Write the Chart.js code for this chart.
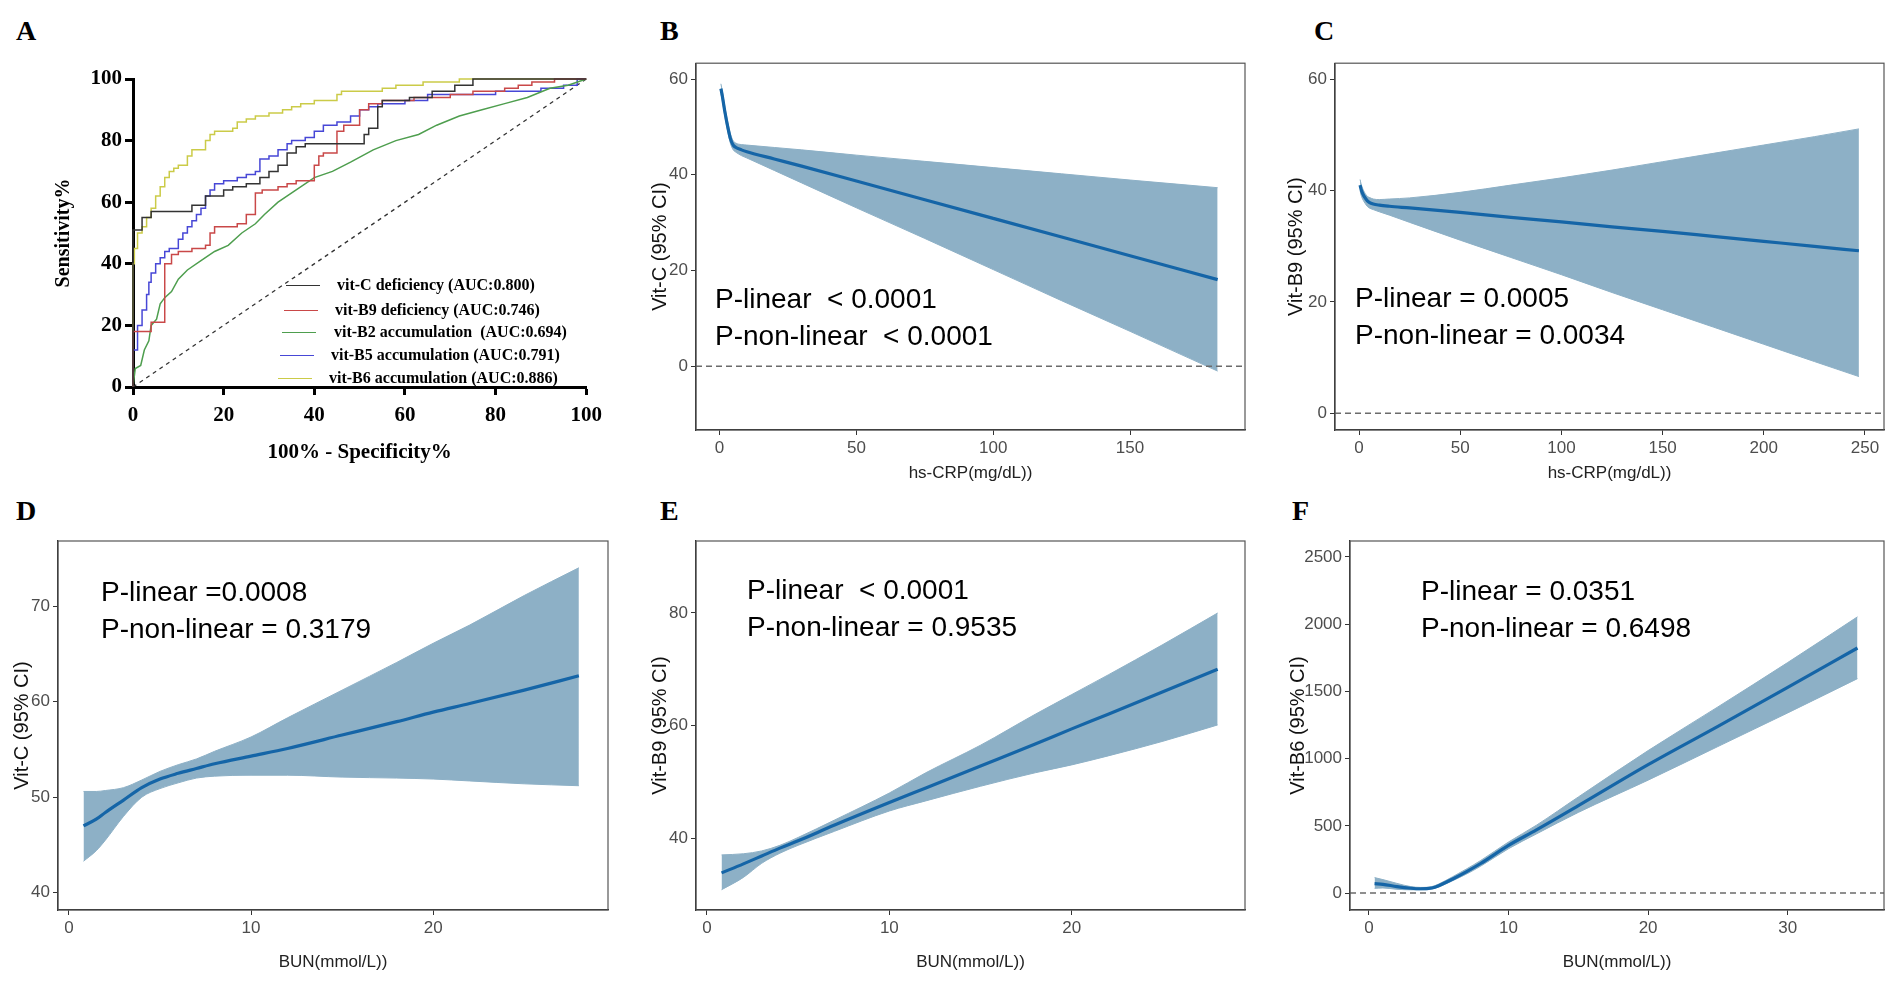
<!DOCTYPE html>
<html>
<head>
<meta charset="utf-8">
<script src="https://cdn.jsdelivr.net/npm/chart.js@4.4.1/dist/chart.umd.min.js"></script>
<style>
  body { margin: 0; background: #fff; width: 1890px; height: 981px; position: relative; overflow: hidden; }
  canvas { position: absolute; }
  .tag { position: absolute; font: bold 28px "Liberation Serif", "Times New Roman", serif; line-height: 28px; }
  .pval { position: absolute; font: 28px "Liberation Sans", Arial, sans-serif; white-space: pre; line-height: 37px; color: #000; }
  .leg { position: absolute; font: bold 16px "Liberation Serif", "Times New Roman", serif; white-space: pre; line-height: 18px; }
  .legline { position: absolute; width: 34px; height: 0; border-top: 1.6px solid; }
</style>
</head>
<body>
<div class="tag" style="left:16px;top:17px">A</div>
<div class="tag" style="left:660px;top:17px">B</div>
<div class="tag" style="left:1314px;top:17px">C</div>
<div class="tag" style="left:16px;top:497px">D</div>
<div class="tag" style="left:660px;top:497px">E</div>
<div class="tag" style="left:1292px;top:497px">F</div>

<canvas id="chartA" width="570" height="420" style="left:40px;top:60px"></canvas>
<canvas id="chartB" width="625" height="440" style="left:630px;top:50px"></canvas>
<canvas id="chartC" width="630" height="440" style="left:1260px;top:50px"></canvas>
<canvas id="chartD" width="618" height="461" style="left:0px;top:520px"></canvas>
<canvas id="chartE" width="625" height="461" style="left:630px;top:520px"></canvas>
<canvas id="chartF" width="630" height="461" style="left:1260px;top:520px"></canvas>

<div class="pval" style="left:715px;top:280px">P-linear  &lt; 0.0001
P-non-linear  &lt; 0.0001</div>
<div class="pval" style="left:1355px;top:279px">P-linear = 0.0005
P-non-linear = 0.0034</div>
<div class="pval" style="left:101px;top:573px">P-linear =0.0008
P-non-linear = 0.3179</div>
<div class="pval" style="left:747px;top:571px">P-linear  &lt; 0.0001
P-non-linear = 0.9535</div>
<div class="pval" style="left:1421px;top:572px">P-linear = 0.0351
P-non-linear = 0.6498</div>

<div id="legendA"></div>

<script>
// ---- panel A: ROC curves (100% - specificity, sensitivity) ----
const rocC_x = [0, 0, 2, 4, 13, 16, 20, 22, 25, 28, 30, 32, 34, 36, 38, 40, 51, 52, 54, 55, 61, 66, 71, 75, 80, 100];
const rocC_y = [0, 44, 51, 55, 57, 59, 62, 64, 65, 66, 68, 70, 72, 76, 78, 79, 79, 82, 84, 91, 93, 94, 96, 98, 100, 100];

const rocB9_x = [0, 0, 4, 7, 8.5, 10, 13, 16, 17, 18, 23, 25, 27, 28.5, 32, 34, 36, 40, 41, 42, 45, 46.5, 50, 52, 55, 62, 70, 75, 82, 85, 88, 93, 100];
const rocB9_y = [0, 12, 18, 21, 40, 43, 44, 45, 46, 50, 52, 53, 56, 63, 64, 65, 66, 67, 72, 75, 76, 83, 85, 90, 92, 93, 94, 95, 96, 97, 98, 99, 100];

const rocB2_x = [0, 0.5, 1.7, 2.5, 3.5, 4, 5.2, 6, 7, 8.5, 10, 12, 15, 18, 21, 24, 27, 29, 32, 36, 40, 44, 48, 53, 58, 63, 67, 72, 77, 82, 87, 92, 96, 100];
const rocB2_y = [0, 6, 7, 12, 15, 20, 22, 27, 29, 31, 35, 38, 41, 44, 46, 50, 53, 56, 60, 64, 68, 70, 73, 77, 80, 82, 85, 88, 90, 92, 94, 97, 98, 100];

const rocB5_x = [0, 0, 1, 2, 3, 3.5, 4, 5, 6, 7, 8, 10, 11, 12, 13, 14, 15, 16, 17, 18, 20, 23, 25, 27, 28, 30, 32, 34, 35, 38, 40, 42, 45, 48, 50, 52, 54, 60, 65, 80, 90, 95, 98, 100];
const rocB5_y = [0, 6, 12, 20, 25, 30, 34, 37, 40, 42, 44, 45, 48, 50, 52, 54, 56, 58, 62, 64, 66, 67, 68, 69, 70, 74, 75, 77, 79, 80, 81, 83, 85, 86, 88, 90, 91, 92, 93, 95, 96, 97, 98, 100];

const rocB6_x = [0, 0, 0.3, 1, 2, 3, 4, 5, 6, 7, 8, 9, 10, 12, 13, 16, 17, 18, 22, 23, 25, 27, 30, 33, 35, 37, 40, 45, 46, 55, 58, 64, 72, 89, 100];
const rocB6_y = [0, 20, 40, 45, 50, 52, 55, 58, 62, 65, 68, 70, 71, 72, 75, 77, 80, 82, 83, 84, 86, 87, 88, 89, 90, 91, 92, 93, 95, 96, 97, 98, 99, 100, 100];

const rocLabels = ['vit-C deficiency (AUC:0.800)', 'vit-B9 deficiency (AUC:0.746)', 'vit-B2 accumulation  (AUC:0.694)',
                   'vit-B5 accumulation (AUC:0.791)', 'vit-B6 accumulation (AUC:0.886)'];
const rocColors = ['#333333', '#c94848', '#4e9e4e', '#4747d6', '#cbcb48'];
const chanceX = [0, 100];
const rocTicks = [0, 20, 40, 60, 80, 100];

// ---- panel B: Vit-C vs hs-CRP ----
const crpB = [0.5, 1, 2, 3, 4, 5, 6, 8, 10, 20, 30, 50, 75, 100, 125, 150, 182];
const vitC_fitB = [58, 56.5, 53, 50, 47.5, 46.2, 45.7, 45.2, 44.8, 43.3, 41.8, 38.7, 34.8, 30.9, 27, 23.1, 18.1];
const vitC_loB = [57, 55.5, 52, 49, 46.5, 45.2, 44.7, 44, 43.5, 40.9, 38.3, 33.1, 26.7, 20.2, 13.7, 7.3, -1];
const vitC_hiB = [59, 57.5, 54, 51, 48.5, 47.1, 46.6, 46.3, 46.2, 45.7, 45.2, 44.1, 42.8, 41.5, 40.2, 38.9, 37.3];
const crpTicksB = [0, 50, 100, 150];
const vitCTicksB = [0, 20, 40, 60];

// ---- panel C: Vit-B9 vs hs-CRP ----
const crpC = [0.5, 1, 2, 3, 4, 5, 7, 10, 15, 25, 50, 75, 100, 125, 150, 175, 200, 225, 247];
const vitB9_fitC = [41, 40.2, 39.3, 38.7, 38.2, 37.9, 37.6, 37.4, 37.2, 36.9, 36.1, 35.2, 34.4, 33.5, 32.7, 31.8, 30.9, 30, 29.2];
const vitB9_loC = [40, 39.2, 38.3, 37.7, 37.2, 36.9, 36.6, 36.2, 35.6, 34.3, 31.1, 28, 24.9, 21.7, 18.6, 15.5, 12.4, 9.3, 6.6];
const vitB9_hiC = [42, 41.2, 40.2, 39.5, 39, 38.8, 38.5, 38.4, 38.5, 38.7, 39.7, 41, 42.3, 43.7, 45.2, 46.7, 48.2, 49.7, 51.1];
const crpTicksC = [0, 50, 100, 150, 200, 250];
const vitB9TicksC = [0, 20, 40, 60];

// ---- panel D: Vit-C vs BUN ----
const bunD = [0.8, 1.5, 2, 3, 4, 5, 6, 7, 8, 10, 12, 15, 18, 20, 22, 25, 28];
const vitC_fitD = [47, 47.7, 48.4, 49.7, 51, 51.9, 52.5, 53, 53.5, 54.3, 55.1, 56.5, 57.9, 58.9, 59.8, 61.2, 62.7];
const vitC_loD = [43.3, 44.4, 45.5, 48, 50, 50.9, 51.5, 52, 52.2, 52.3, 52.3, 52.1, 52, 51.9, 51.7, 51.4, 51.2];
const vitC_hiD = [50.6, 50.6, 50.7, 51, 51.8, 52.7, 53.4, 54, 54.8, 56.3, 58.3, 61.2, 64.1, 66.1, 68, 71.1, 74];
const bunTicksD = [0, 10, 20];
const vitCTicksD = [40, 50, 60, 70];

// ---- panel E: Vit-B9 vs BUN ----
const bunE = [0.8, 2, 3, 4, 5, 7, 10, 12, 15, 18, 20, 22, 25, 28];
const vitB9_fitE = [33.8, 35.4, 36.8, 38.2, 39.5, 42.3, 46.3, 48.9, 52.8, 56.7, 59.4, 62, 66, 70];
const vitB9_loE = [30.8, 33, 35.5, 37.3, 38.7, 41.2, 44.8, 46.6, 49.2, 51.6, 53, 54.6, 57.2, 60.1];
const vitB9_hiE = [37, 37.2, 37.7, 38.7, 40.1, 43.2, 48, 51.6, 56.5, 62, 65.5, 69, 74.4, 80];
const bunTicksE = [0, 10, 20];
const vitB9TicksE = [40, 60, 80];

// ---- panel F: Vit-B6 vs BUN ----
const bunF = [0.4, 1, 2, 3, 3.7, 4.5, 5, 6, 7, 8, 10, 12, 15, 20, 25, 30, 35];
const vitB6_fitF = [70, 65, 48, 36, 32, 38, 55, 105, 160, 220, 355, 470, 650, 955, 1240, 1530, 1823];
const vitB6_loF = [35, 38, 28, 24, 24, 30, 45, 92, 142, 200, 330, 440, 600, 840, 1090, 1340, 1595];
const vitB6_hiF = [115, 100, 72, 48, 42, 48, 68, 122, 180, 242, 380, 505, 715, 1060, 1385, 1715, 2055];
const bunTicksF = [0, 10, 20, 30];
const vitB6TicksF = [0, 500, 1000, 1500, 2000, 2500];

const refValue = 0;

const bandColor = '#8db0c6';
const fitColor = '#1565a7';
const narrow = "'Liberation Sans Narrow', 'Liberation Sans', Arial, sans-serif";
const sans = "'Liberation Sans', Arial, sans-serif";
const serif = "'Liberation Serif', 'Times New Roman', serif";

function pts(xs, ys) {
  return xs.map(function(x, i) { return {x: x, y: ys[i]}; });
}
function fixedTicks(vals) {
  return function(scale) { scale.ticks = vals.map(function(v) { return {value: v}; }); };
}

const boxPlugin = {
  id: 'box',
  afterDraw: function(chart) {
    const a = chart.chartArea, ctx = chart.ctx;
    ctx.save();
    ctx.strokeStyle = '#555';
    ctx.lineWidth = 1.2;
    ctx.strokeRect(a.left, a.top, a.right - a.left, a.bottom - a.top);
    ctx.restore();
  }
};
function zeroPlugin(show) {
  return {
    id: 'zeroline',
    afterDatasetsDraw: function(chart) {
      if (!show) return;
      const a = chart.chartArea, ctx = chart.ctx;
      const y = chart.scales.y.getPixelForValue(refValue);
      ctx.save();
      ctx.strokeStyle = '#6b6b6b';
      ctx.lineWidth = 1.5;
      ctx.setLineDash([6, 4]);
      ctx.beginPath();
      ctx.moveTo(a.left, y);
      ctx.lineTo(a.right, y);
      ctx.stroke();
      ctx.restore();
    }
  };
}

function splinePanel(id, xs, fit, lo, hi, xr, yr, xt, yt, xTitle, yTitle, zero, p) {
  new Chart(document.getElementById(id), {
    type: 'line',
    data: {
      datasets: [
        { data: pts(xs, fit), borderColor: fitColor, borderWidth: 3.2, pointRadius: 0, fill: false, cubicInterpolationMode: 'monotone' },
        { data: pts(xs, lo), borderColor: bandColor, borderWidth: 1, pointRadius: 0, fill: false, cubicInterpolationMode: 'monotone' },
        { data: pts(xs, hi), borderColor: bandColor, borderWidth: 1, pointRadius: 0, fill: '-1', backgroundColor: bandColor, cubicInterpolationMode: 'monotone' }
      ]
    },
    options: {
      responsive: false,
      animation: false,
      devicePixelRatio: 1,
      layout: { padding: { top: p.top, right: p.right, left: 0, bottom: 0 } },
      plugins: { legend: { display: false }, tooltip: { enabled: false } },
      scales: {
        x: {
          type: 'linear', min: xr[0], max: xr[1],
          afterBuildTicks: fixedTicks(xt),
          afterFit: function(s) { s.height = p.xh; },
          grid: { drawOnChartArea: false, tickLength: 5, color: '#333' },
          border: { color: '#222', width: 1.3 },
          ticks: { font: { family: narrow, size: 17 }, color: '#4d4d4d', padding: 3, maxRotation: 0, autoSkip: false, callback: function(v) { return v; } },
          title: { display: true, text: xTitle, font: { family: sans, size: 17 }, color: '#222', padding: { top: 0, bottom: p.xtp } }
        },
        y: {
          type: 'linear', min: yr[0], max: yr[1],
          afterBuildTicks: fixedTicks(yt),
          afterFit: function(s) { s.width = p.yw; },
          grid: { drawOnChartArea: false, tickLength: 5, color: '#333' },
          border: { color: '#222', width: 1.3 },
          ticks: { font: { family: narrow, size: 17 }, color: '#4d4d4d', padding: 3, autoSkip: false, callback: function(v) { return v; } },
          title: { display: true, text: yTitle, font: { family: sans, size: 20 }, color: '#111', padding: { top: p.ytp, bottom: 0 } }
        }
      }
    },
    plugins: [boxPlugin, zeroPlugin(zero)]
  });
}

// panel A
function rocSet(xs, ys, i, stepped) {
  return { label: rocLabels[i], data: pts(xs, ys), borderColor: rocColors[i], borderWidth: 1.5,
           pointRadius: 0, fill: false, stepped: stepped, clip: 4 };
}
new Chart(document.getElementById('chartA'), {
  type: 'line',
  data: {
    datasets: [
      rocSet(rocC_x, rocC_y, 0, 'after'),
      rocSet(rocB9_x, rocB9_y, 1, 'after'),
      rocSet(rocB2_x, rocB2_y, 2, false),
      rocSet(rocB5_x, rocB5_y, 3, 'after'),
      rocSet(rocB6_x, rocB6_y, 4, 'after'),
      { label: 'chance', data: pts(chanceX, chanceX), borderColor: '#333', borderWidth: 1.3, borderDash: [4, 4], pointRadius: 0, fill: false }
    ]
  },
  options: {
    responsive: false,
    animation: false,
    devicePixelRatio: 1,
    layout: { padding: { top: 19, right: 13, left: 0, bottom: 0 } },
    plugins: { legend: { display: false }, tooltip: { enabled: false } },
    scales: {
      x: {
        type: 'linear', min: 0, max: 100,
        afterBuildTicks: fixedTicks(rocTicks),
        afterFit: function(s) { s.height = 93; },
        grid: { drawOnChartArea: false, tickLength: 8, tickWidth: 3, tickColor: '#000' },
        border: { color: '#000', width: 3 },
        ticks: { font: { family: serif, size: 21, weight: 'bold' }, color: '#000', padding: 8, maxRotation: 0, autoSkip: false },
        title: { display: true, text: '100% - Specificity%', font: { family: serif, size: 21, weight: 'bold' }, color: '#000', padding: { top: 0, bottom: 15 } }
      },
      y: {
        type: 'linear', min: 0, max: 100,
        afterBuildTicks: fixedTicks(rocTicks),
        afterFit: function(s) { s.width = 93; },
        grid: { drawOnChartArea: false, tickLength: 8, tickWidth: 3, tickColor: '#000' },
        border: { color: '#000', width: 3 },
        ticks: { font: { family: serif, size: 21, weight: 'bold' }, color: '#000', padding: 3, autoSkip: false },
        title: { display: true, text: 'Sensitivity%', font: { family: serif, size: 20, weight: 'bold' }, color: '#000', padding: { top: 12, bottom: 0 } }
      }
    }
  }
});

// legend of panel A
const legTop = [285, 310, 332, 355, 378];
const legLineX = [286, 284, 282, 280, 278];
const legTextX = [337, 335, 334, 331, 329];
let legHtml = '';
for (let i = 0; i < rocLabels.length; i++) {
  legHtml += '<div class="legline" style="left:' + legLineX[i] + 'px;top:' + legTop[i] + 'px;border-color:' + rocColors[i] + '"></div>';
  legHtml += '<div class="leg" style="left:' + legTextX[i] + 'px;top:' + (legTop[i] - 9) + 'px">' + rocLabels[i] + '</div>';
}
document.getElementById('legendA').innerHTML = legHtml;

// panels B-F
splinePanel('chartB', crpB, vitC_fitB, vitC_loB, vitC_hiB, [-8.6, 192], [-13.3, 63.3], crpTicksB, vitCTicksB,
  'hs-CRP(mg/dL))', 'Vit-C (95% CI)', true, { top: 11, right: 10, xh: 60, yw: 66, xtp: 6, ytp: 18 });
splinePanel('chartC', crpC, vitB9_fitC, vitB9_loC, vitB9_hiC, [-11.9, 259.4], [-3, 62.9], crpTicksC, vitB9TicksC,
  'hs-CRP(mg/dL))', 'Vit-B9 (95% CI)', true, { top: 11, right: 6, xh: 60, yw: 75, xtp: 6, ytp: 24 });
splinePanel('chartD', bunD, vitC_fitD, vitC_loD, vitC_hiD, [-0.6, 29.6], [38.2, 76.8], bunTicksD, vitCTicksD,
  'BUN(mmol/L))', 'Vit-C (95% CI)', false, { top: 21, right: 10, xh: 71, yw: 58, xtp: 8, ytp: 10 });
splinePanel('chartE', bunE, vitB9_fitE, vitB9_loE, vitB9_hiE, [-0.6, 29.5], [27.2, 92.8], bunTicksE, vitB9TicksE,
  'BUN(mmol/L))', 'Vit-B9 (95% CI)', false, { top: 21, right: 10, xh: 71, yw: 66, xtp: 8, ytp: 18 });
splinePanel('chartF', bunF, vitB6_fitF, vitB6_loF, vitB6_hiF, [-1.36, 36.9], [-126, 2619], bunTicksF, vitB6TicksF,
  'BUN(mmol/L))', 'Vit-B6 (95% CI)', true, { top: 21, right: 6, xh: 71, yw: 90, xtp: 8, ytp: 26 });
</script>
</body>
</html>
